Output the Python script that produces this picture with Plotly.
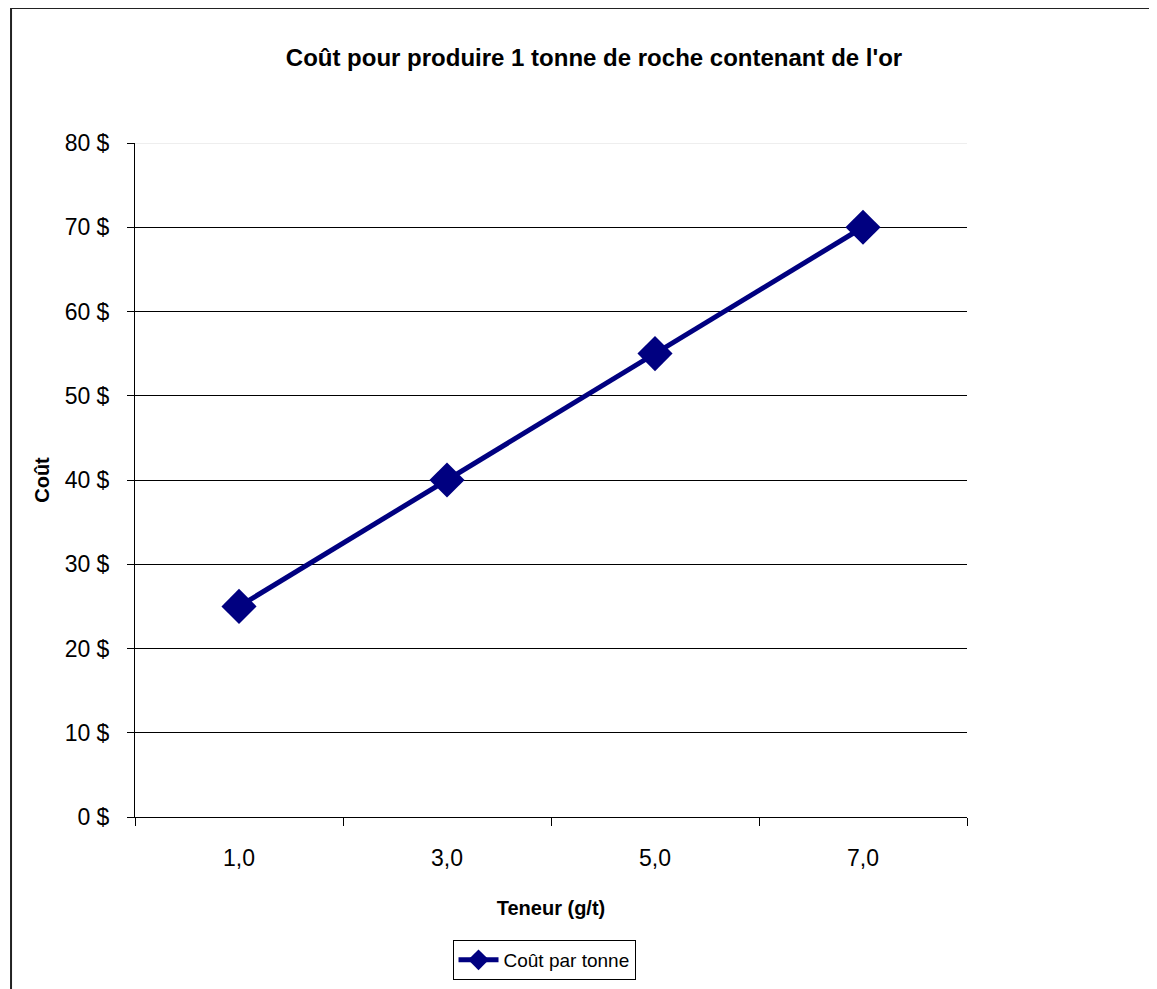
import plotly.graph_objects as go

categories = ["1,0", "3,0", "5,0", "7,0"]
cout = [25, 40, 55, 70]
y_ticks = [0, 10, 20, 30, 40, 50, 60, 70, 80]
y_labels = [f"{v} $" for v in y_ticks]

NAVY = "#000080"
FONT = "Liberation Sans, Arial, sans-serif"
BOLD = "Liberation Sans, Arial, sans-serif"

fig = go.Figure()
fig.add_trace(go.Scatter(
    x=categories, y=cout, mode="lines+markers", name="Coût par tonne",
    line=dict(color=NAVY, width=5),
    marker=dict(symbol="diamond", size=27, color=NAVY),
))

fig.update_layout(
    width=1157, height=989,
    margin=dict(l=127, r=198, t=135, b=180),
    paper_bgcolor="white", plot_bgcolor="white",
    showlegend=True,
    title=dict(text="<b>Coût pour produire 1 tonne de roche contenant de l'or</b>",
               x=586/1157, xanchor="center", xref="container",
               y=1-50/989, yanchor="middle", yref="container",
               font=dict(family=BOLD, size=24, color="black")),
    legend=dict(x=0.4916, xanchor="center", y=-0.1825, yanchor="top",
                orientation="h", bordercolor="black", borderwidth=1,
                font=dict(family=FONT, size=19, color="black"),
                itemwidth=40, bgcolor="white"),
    xaxis=dict(type="category", range=[-0.5, 3.5], tickson="boundaries",
               showline=True, linecolor="black", linewidth=1,
               ticks="outside", ticklen=8, tickcolor="black",
               showgrid=False, zeroline=False,
               ticklabelstandoff=20,
               tickfont=dict(family=FONT, size=23, color="black"),
               title=dict(text="<b>Teneur (g/t)</b>", standoff=31,
                          font=dict(family=BOLD, size=20, color="black"))),
    yaxis=dict(range=[0, 80], tickvals=y_ticks, ticktext=y_labels,
               showline=True, linecolor="black", linewidth=1,
               ticks="outside", ticklen=7, tickcolor="black",
               showgrid=True, gridcolor="black", gridwidth=1, zeroline=False,
               tickfont=dict(family=FONT, size=23, color="black"),
               ticklabelstandoff=13,
               title=dict(text="<b>Coût</b>", standoff=9,
                          font=dict(family=BOLD, size=20, color="black"))),
    shapes=[
        dict(type="line", xref="paper", yref="y", x0=0, x1=1, y0=80, y1=80,
             line=dict(color="#dddddd", width=1), layer="above"),
        dict(type="rect", xref="paper", yref="paper",
             x0=-0.149, x1=1.6, y0=-0.6, y1=1.2003,
             line=dict(color="#222222", width=2), layer="below"),
    ],
)

fig.write_html("out.html")
